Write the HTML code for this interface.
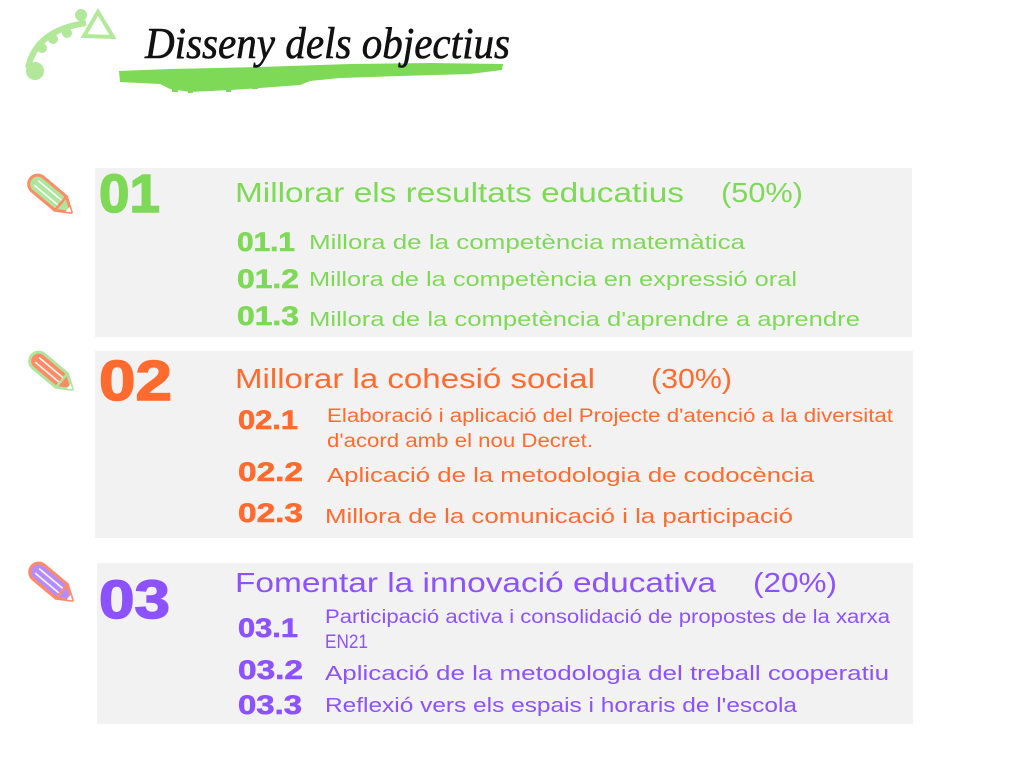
<!DOCTYPE html>
<html>
<head>
<meta charset="utf-8">
<style>
html,body{margin:0;padding:0;background:#fff;}
svg{display:block;}
text{font-family:"Liberation Sans",sans-serif;}
</style>
</head>
<body>
<svg width="1024" height="768" viewBox="0 0 1024 768" xmlns="http://www.w3.org/2000/svg">
<rect width="1024" height="768" fill="#ffffff"/>

<!-- Logo -->
<g opacity="0.6" fill="#7ed957">
  <path d="M28,68 Q36,30 86,23" fill="none" stroke="#7ed957" stroke-width="6"/>
  <circle cx="35" cy="71" r="9"/>
  <circle cx="42" cy="48" r="5"/>
  <circle cx="53" cy="39" r="5"/>
  <circle cx="67" cy="33" r="5"/>
  <circle cx="81" cy="15" r="6"/>
  <polygon points="98,12 84,36 113,37" fill="none" stroke="#7ed957" stroke-width="4" stroke-linejoin="miter"/>
</g>

<!-- Brush stroke -->
<path d="M119,71 L170,69 L260,67 L350,64 L430,63 L503,64 L502,70 L470,74 L400,76 L340,78 L310,81 L300,85 L260,88 L230,90 L190,92 L170,89 L160,84 L140,83 L120,82 Z" fill="#7ed957"/>
<g fill="#7ed957">
  <rect x="172" y="88" width="6" height="4"/>
  <rect x="188" y="89" width="5" height="4"/>
  <rect x="205" y="88" width="8" height="3"/>
  <rect x="226" y="88" width="5" height="4"/>
  <rect x="252" y="86" width="6" height="3"/>
</g>

<!-- Title -->
<text x="145" y="58" font-style="italic" font-size="44" fill="#111" stroke="#111" stroke-width="0.6" textLength="365" lengthAdjust="spacingAndGlyphs" style="font-family:'Liberation Serif',serif">Disseny dels objectius</text>

<!-- Panels -->
<rect x="95" y="168" width="817" height="169" fill="#f2f2f2"/>
<rect x="95" y="351" width="818" height="187" fill="#f2f2f2"/>
<rect x="97" y="563" width="816" height="161" fill="#f2f2f2"/>

<!-- Pencils -->
<g transform="translate(53,197) rotate(40)">
  <path d="M-20,-9 L10,-9 L24,0 L10,9 L-20,9 A9,9 0 0 1 -20,-9 Z" fill="#aee69d" stroke="#ff8a66" stroke-width="3" stroke-linejoin="round"/>
  <line x1="-22" y1="-3" x2="10" y2="-3" stroke="#fff" stroke-width="1.5"/>
  <line x1="-22" y1="3" x2="10" y2="3" stroke="#fff" stroke-width="1.5"/>
  <line x1="10" y1="-9" x2="10" y2="9" stroke="#ff8a66" stroke-width="2.5"/>
  <path d="M19,-3 L24,0 L19,3" fill="#fff"/>
</g>
<g transform="translate(54,374) rotate(40)">
  <path d="M-20,-9 L10,-9 L24,0 L10,9 L-20,9 A9,9 0 0 1 -20,-9 Z" fill="#ff8a66" stroke="#aee69d" stroke-width="3" stroke-linejoin="round"/>
  <line x1="-22" y1="-3" x2="10" y2="-3" stroke="#fff" stroke-width="1.5"/>
  <line x1="-22" y1="3" x2="10" y2="3" stroke="#fff" stroke-width="1.5"/>
  <line x1="10" y1="-9" x2="10" y2="9" stroke="#aee69d" stroke-width="2.5"/>
  <path d="M19,-3 L24,0 L19,3" fill="#fff"/>
</g>
<g transform="translate(54,585) rotate(40)">
  <path d="M-20,-9 L10,-9 L24,0 L10,9 L-20,9 A9,9 0 0 1 -20,-9 Z" fill="#b48cff" stroke="#ff8a66" stroke-width="3" stroke-linejoin="round"/>
  <line x1="-22" y1="-3" x2="10" y2="-3" stroke="#fff" stroke-width="1.5"/>
  <line x1="-22" y1="3" x2="10" y2="3" stroke="#fff" stroke-width="1.5"/>
  <line x1="10" y1="-9" x2="10" y2="9" stroke="#ff8a66" stroke-width="2.5"/>
  <path d="M19,-3 L24,0 L19,3" fill="#fff"/>
</g>

<!-- Section 1 -->
<g fill="#7ed957">
  <text x="99" y="212" font-size="54" font-weight="bold" stroke="#7ed957" stroke-width="1.5" textLength="61" lengthAdjust="spacingAndGlyphs">01</text>
  <text x="235" y="202" font-size="28" textLength="449" lengthAdjust="spacingAndGlyphs">Millorar els resultats educatius</text>
  <text x="721" y="202" font-size="28" textLength="82" lengthAdjust="spacingAndGlyphs">(50%)</text>
  <text x="237" y="251" font-size="27" font-weight="bold" stroke="#7ed957" stroke-width="0.6" textLength="58" lengthAdjust="spacingAndGlyphs">01.1</text>
  <text x="237" y="288" font-size="27" font-weight="bold" stroke="#7ed957" stroke-width="0.6" textLength="62" lengthAdjust="spacingAndGlyphs">01.2</text>
  <text x="237" y="325" font-size="27" font-weight="bold" stroke="#7ed957" stroke-width="0.6" textLength="62" lengthAdjust="spacingAndGlyphs">01.3</text>
  <text x="309" y="249" font-size="20" textLength="436" lengthAdjust="spacingAndGlyphs">Millora de la competència matemàtica</text>
  <text x="309" y="286" font-size="20" textLength="488" lengthAdjust="spacingAndGlyphs">Millora de la competència en expressió oral</text>
  <text x="309" y="326" font-size="20" textLength="551" lengthAdjust="spacingAndGlyphs">Millora de la competència d'aprendre a aprendre</text>
</g>

<!-- Section 2 -->
<g fill="#ff6a2e">
  <text x="99" y="400" font-size="57" font-weight="bold" stroke="#ff6a2e" stroke-width="1.5" textLength="73" lengthAdjust="spacingAndGlyphs">02</text>
  <text x="235" y="388" font-size="28" textLength="360" lengthAdjust="spacingAndGlyphs">Millorar la cohesió social</text>
  <text x="651" y="388" font-size="28" textLength="81" lengthAdjust="spacingAndGlyphs">(30%)</text>
  <text x="238" y="429" font-size="27" font-weight="bold" stroke="#ff6a2e" stroke-width="0.6" textLength="60" lengthAdjust="spacingAndGlyphs">02.1</text>
  <text x="238" y="481" font-size="27" font-weight="bold" stroke="#ff6a2e" stroke-width="0.6" textLength="65" lengthAdjust="spacingAndGlyphs">02.2</text>
  <text x="238" y="522" font-size="27" font-weight="bold" stroke="#ff6a2e" stroke-width="0.6" textLength="65" lengthAdjust="spacingAndGlyphs">02.3</text>
  <text x="327" y="422" font-size="19" textLength="566" lengthAdjust="spacingAndGlyphs">Elaboració i aplicació del Projecte d'atenció a la diversitat</text>
  <text x="327" y="447" font-size="19" textLength="266" lengthAdjust="spacingAndGlyphs">d'acord amb el nou Decret.</text>
  <text x="327" y="482" font-size="20" textLength="487" lengthAdjust="spacingAndGlyphs">Aplicació de la metodologia de codocència</text>
  <text x="325" y="523" font-size="20" textLength="468" lengthAdjust="spacingAndGlyphs">Millora de la comunicació i la participació</text>
</g>

<!-- Section 3 -->
<g fill="#8c52ff">
  <text x="99" y="618" font-size="54" font-weight="bold" stroke="#8c52ff" stroke-width="1.5" textLength="71" lengthAdjust="spacingAndGlyphs">03</text>
  <text x="235" y="592" font-size="28" textLength="481" lengthAdjust="spacingAndGlyphs">Fomentar la innovació educativa</text>
  <text x="753" y="592" font-size="28" textLength="84" lengthAdjust="spacingAndGlyphs">(20%)</text>
  <text x="238" y="637" font-size="27" font-weight="bold" stroke="#8c52ff" stroke-width="0.6" textLength="60" lengthAdjust="spacingAndGlyphs">03.1</text>
  <text x="238" y="679" font-size="27" font-weight="bold" stroke="#8c52ff" stroke-width="0.6" textLength="65" lengthAdjust="spacingAndGlyphs">03.2</text>
  <text x="238" y="714" font-size="27" font-weight="bold" stroke="#8c52ff" stroke-width="0.6" textLength="64" lengthAdjust="spacingAndGlyphs">03.3</text>
  <text x="325" y="623" font-size="19" textLength="565" lengthAdjust="spacingAndGlyphs">Participació activa i consolidació de propostes de la xarxa</text>
  <text x="325" y="648" font-size="19" textLength="43" lengthAdjust="spacingAndGlyphs">EN21</text>
  <text x="325" y="680" font-size="20" textLength="564" lengthAdjust="spacingAndGlyphs">Aplicació de la metodologia del treball cooperatiu</text>
  <text x="325" y="712" font-size="20" textLength="472" lengthAdjust="spacingAndGlyphs">Reflexió vers els espais i horaris de l'escola</text>
</g>
</svg>
</body>
</html>
